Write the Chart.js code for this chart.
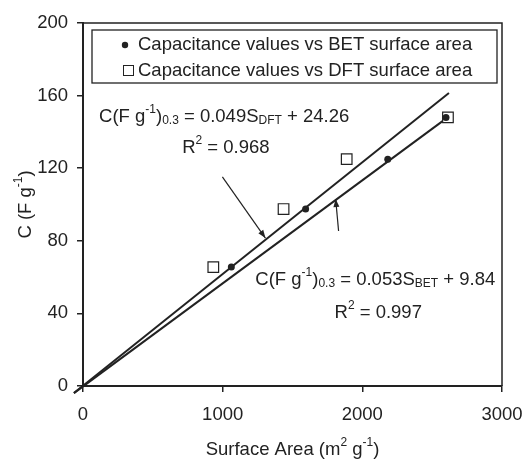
<!DOCTYPE html>
<html>
<head>
<meta charset="utf-8">
<script src="https://cdn.jsdelivr.net/npm/chart.js@4.4.1/dist/chart.umd.min.js"></script>
<style>
  html, body { margin: 0; padding: 0; background: #fff; }
  #wrap { width: 524px; height: 460px; }
</style>
</head>
<body>
<div id="wrap"><canvas id="chartCap"></canvas></div>
<script>
// data
const capacitance = [65.5, 97.5, 125, 148];
const betArea = [1062, 1594, 2182, 2599];
const dftArea = [933, 1436, 1888, 2613];
const dftFitX = [-65, 2620];
const dftFitY = [-3.9, 161.4];
const betFitX = [-65, 2606];
const betFitY = [-3.9, 147.7];
const xTicks = [0, 1000, 2000, 3000];
const yTicks = [0, 40, 80, 120, 160, 200];
const legendLabels = ['Capacitance values vs BET surface area', 'Capacitance values vs DFT surface area'];

const INK = '#222';
const FONT = '"Liberation Sans", Arial, sans-serif';
const FS = 18.5;

const pts = (xs, ys) => xs.map((x, i) => ({ x: x, y: ys[i] }));

// text pieces with sup/sub, anchors in data units
const notes = [
  { at: [115, 145.5], parts: [['C(F g'], ['-1', 'sup'], [')'], ['0.3', 'sub'], [' = 0.049S'], ['DFT', 'sub'], [' + 24.26']] },
  { at: [710, 128.4], parts: [['R'], ['2', 'sup'], [' = 0.968']] },
  { at: [1234, 55.6], parts: [['C(F g'], ['-1', 'sup'], [')'], ['0.3', 'sub'], [' = 0.053S'], ['BET', 'sub'], [' + 9.84']] },
  { at: [1801, 37.5], parts: [['R'], ['2', 'sup'], [' = 0.997']] }
];
const arrows = [
  { from: [998, 115.2], to: [1306, 81.5] },
  { from: [1830, 85.4], to: [1809, 103] }
];

function fontFor(kind, size) {
  return (kind ? Math.round(size * 0.66) : size) + 'px ' + FONT;
}

function richText(ctx, parts, x, y, size, align) {
  const w = parts.map(p => { ctx.font = fontFor(p[1], size); return ctx.measureText(p[0]).width; });
  const total = w.reduce((a, b) => a + b, 0);
  let cx = align === 'center' ? x - total / 2 : x;
  ctx.textAlign = 'left';
  ctx.textBaseline = 'alphabetic';
  parts.forEach((p, i) => {
    ctx.font = fontFor(p[1], size);
    const dy = p[1] === 'sup' ? -0.5 * size : p[1] === 'sub' ? 0.12 * size : 0;
    ctx.fillText(p[0], cx, y + dy);
    cx += w[i];
  });
}

function arrow(ctx, x1, y1, x2, y2) {
  ctx.beginPath();
  ctx.moveTo(x1, y1);
  ctx.lineTo(x2, y2);
  ctx.stroke();
  const a = Math.atan2(y2 - y1, x2 - x1);
  const L = 8, H = 3;
  ctx.beginPath();
  ctx.moveTo(x2, y2);
  ctx.lineTo(x2 - L * Math.cos(a) + H * Math.sin(a), y2 - L * Math.sin(a) - H * Math.cos(a));
  ctx.lineTo(x2 - L * Math.cos(a) - H * Math.sin(a), y2 - L * Math.sin(a) + H * Math.cos(a));
  ctx.closePath();
  ctx.fill();
}

const extras = {
  id: 'extras',
  afterDraw(chart) {
    const { ctx, chartArea: ca, scales } = chart;
    const sx = scales.x, sy = scales.y;
    ctx.save();
    ctx.strokeStyle = INK;
    ctx.fillStyle = INK;

    // top and right frame
    ctx.lineWidth = 1.5;
    ctx.beginPath();
    ctx.moveTo(ca.left, ca.top);
    ctx.lineTo(ca.right, ca.top);
    ctx.lineTo(ca.right, ca.bottom);
    ctx.stroke();

    // legend box
    const lx = ca.left + 9, ly = ca.top + 7, lw = ca.right - ca.left - 14, lh = 53;
    ctx.fillStyle = '#fff';
    ctx.fillRect(lx, ly, lw, lh);
    ctx.lineWidth = 1.3;
    ctx.strokeRect(lx, ly, lw, lh);
    ctx.fillStyle = INK;
    ctx.font = FS + 'px ' + FONT;
    ctx.textBaseline = 'middle';
    ctx.textAlign = 'left';
    ctx.beginPath();
    ctx.arc(lx + 33, ly + 15, 3.2, 0, Math.PI * 2);
    ctx.fill();
    ctx.lineWidth = 1;
    ctx.strokeRect(lx + 31.5, ly + 35.5, 10, 10);
    ctx.fillText(legendLabels[0], lx + 46, ly + 15);
    ctx.fillText(legendLabels[1], lx + 46, ly + 41);

    // equations
    notes.forEach(n => richText(ctx, n.parts, sx.getPixelForValue(n.at[0]), sy.getPixelForValue(n.at[1]), FS, 'left'));

    // arrows
    ctx.lineWidth = 1.2;
    arrows.forEach(a => arrow(ctx,
      sx.getPixelForValue(a.from[0]), sy.getPixelForValue(a.from[1]),
      sx.getPixelForValue(a.to[0]), sy.getPixelForValue(a.to[1])));

    // axis titles
    richText(ctx, [['Surface Area (m'], ['2', 'sup'], [' g'], ['-1', 'sup'], [')']],
      (ca.left + ca.right) / 2, 455, FS, 'center');
    ctx.translate(31, (ca.top + ca.bottom) / 2);
    ctx.rotate(-Math.PI / 2);
    richText(ctx, [['C (F g'], ['-1', 'sup'], [')']], 0, 0, FS, 'center');
    ctx.restore();
  }
};

const tickGrid = { drawOnChartArea: false, drawTicks: true, tickLength: 6, color: INK, lineWidth: 1.5 };

new Chart(document.getElementById('chartCap'), {
  type: 'scatter',
  data: {
    datasets: [
      {
        label: legendLabels[0],
        data: pts(betArea, capacitance),
        pointStyle: 'circle',
        pointRadius: 3.5,
        backgroundColor: INK,
        borderColor: INK,
        borderWidth: 0,
        order: 1
      },
      {
        label: legendLabels[1],
        data: pts(dftArea, capacitance),
        pointStyle: 'rect',
        pointRadius: 7.5,
        backgroundColor: '#fff',
        borderColor: INK,
        borderWidth: 1.2,
        order: 2
      },
      {
        label: 'DFT fit',
        data: pts(dftFitX, dftFitY),
        showLine: true,
        pointRadius: 0,
        borderColor: INK,
        borderWidth: 2,
        clip: false,
        order: 3
      },
      {
        label: 'BET fit',
        data: pts(betFitX, betFitY),
        showLine: true,
        pointRadius: 0,
        borderColor: INK,
        borderWidth: 2,
        clip: false,
        order: 4
      }
    ]
  },
  options: {
    responsive: true,
    maintainAspectRatio: false,
    animation: false,
    layout: { padding: { top: 23, right: 22, left: 0, bottom: 0 } },
    plugins: {
      legend: { display: false },
      tooltip: { enabled: false }
    },
    scales: {
      x: {
        min: 0, max: 3000,
        afterBuildTicks: s => { s.ticks = xTicks.map(v => ({ value: v })); },
        afterFit: s => { s.height = 74; s.paddingLeft = 0; s.paddingRight = 0; },
        grid: tickGrid,
        border: { display: true, color: INK, width: 2 },
        ticks: { color: INK, font: { family: FONT, size: FS }, padding: 12, maxRotation: 0, callback: v => String(v) }
      },
      y: {
        min: 0, max: 200,
        afterBuildTicks: s => { s.ticks = yTicks.map(v => ({ value: v })); },
        afterFit: s => { s.width = 83; s.paddingTop = 0; s.paddingBottom = 0; },
        grid: tickGrid,
        border: { display: true, color: INK, width: 2 },
        ticks: { color: INK, font: { family: FONT, size: FS }, padding: 9, callback: v => String(v) }
      }
    }
  },
  plugins: [extras]
});
</script>
</body>
</html>
